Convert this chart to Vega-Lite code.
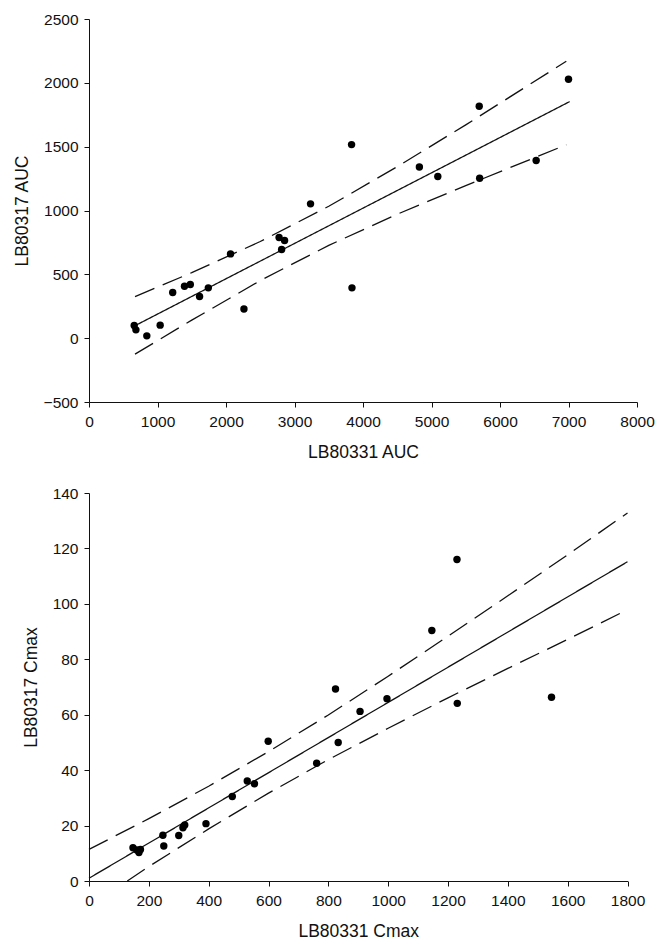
{
  "$schema": "https://vega.github.io/schema/vega-lite/v6.json",
  "padding": {"left": 13, "top": 12, "right": 5, "bottom": 5},
  "background": "white",
  "spacing": 25,
  "config": {
    "view": {"stroke": null},
    "font": "Liberation Sans",
    "axis": {
      "grid": false,
      "format": "d",
      "domainColor": "#111",
      "tickColor": "#111",
      "tickSize": 5,
      "labelFont": "Liberation Sans",
      "labelFontSize": 15.5,
      "labelColor": "#111",
      "titleFont": "Liberation Sans",
      "titleFontSize": 17.5,
      "titleFontWeight": "normal",
      "titleColor": "#111"
    },
    "axisX": {"labelPadding": 7, "titlePadding": 14, "labelFlush": false},
    "axisY": {"labelPadding": 6, "titlePadding": 12}
  },
  "vconcat": [
    {
      "width": 548,
      "height": 383,
      "layer": [
        {
          "data": {"values": [
            {"s": "fit", "x": 680, "y": 100},
            {"s": "fit", "x": 7017, "y": 1853},
            {"s": "upper", "x": 672, "y": 326},
            {"s": "upper", "x": 1500, "y": 513},
            {"s": "upper", "x": 2500, "y": 757},
            {"s": "upper", "x": 3500, "y": 1033},
            {"s": "upper", "x": 4500, "y": 1343},
            {"s": "upper", "x": 5500, "y": 1671},
            {"s": "upper", "x": 6968, "y": 2169},
            {"s": "lower", "x": 672, "y": -125},
            {"s": "lower", "x": 1500, "y": 141},
            {"s": "lower", "x": 2500, "y": 451},
            {"s": "lower", "x": 3500, "y": 727},
            {"s": "lower", "x": 4500, "y": 971},
            {"s": "lower", "x": 5500, "y": 1195},
            {"s": "lower", "x": 6968, "y": 1515}
          ]},
          "mark": {"type": "line", "color": "#111", "strokeWidth": 1.3},
          "encoding": {
            "x": {"field": "x", "type": "quantitative"},
            "y": {"field": "y", "type": "quantitative"},
            "detail": {"field": "s"},
            "strokeDash": {"field": "s", "type": "nominal", "scale": {"domain": ["fit", "upper", "lower"], "range": [[1, 0], [21, 9], [21, 9]]}, "legend": null}
          }
        },
        {
          "data": {"values": [
            {"x": 660, "y": 99}, {"x": 685, "y": 65}, {"x": 844, "y": 18}, {"x": 1039, "y": 102},
            {"x": 1222, "y": 358}, {"x": 1394, "y": 407}, {"x": 1479, "y": 420}, {"x": 1614, "y": 326},
            {"x": 1742, "y": 394}, {"x": 2066, "y": 660}, {"x": 2262, "y": 228}, {"x": 2775, "y": 788},
            {"x": 2812, "y": 694}, {"x": 2855, "y": 765}, {"x": 3234, "y": 1052}, {"x": 3833, "y": 1516},
            {"x": 3839, "y": 394}, {"x": 4823, "y": 1341}, {"x": 5092, "y": 1266}, {"x": 5697, "y": 1816},
            {"x": 5703, "y": 1253}, {"x": 6528, "y": 1391}, {"x": 7000, "y": 2028}
          ]},
          "mark": {"type": "circle", "color": "#000", "opacity": 1, "size": 55},
          "encoding": {
            "x": {"field": "x", "type": "quantitative", "title": "LB80331 AUC",
                  "scale": {"domain": [0, 8000], "nice": false, "zero": false},
                  "axis": {"values": [0, 1000, 2000, 3000, 4000, 5000, 6000, 7000, 8000]}},
            "y": {"field": "y", "type": "quantitative", "title": "LB80317 AUC",
                  "scale": {"domain": [-500, 2500], "nice": false, "zero": false},
                  "axis": {"values": [-500, 0, 500, 1000, 1500, 2000, 2500]}}
          }
        }
      ]
    },
    {
      "width": 538.5,
      "height": 388,
      "layer": [
        {
          "data": {"values": [
            {"s": "fit", "x": 0, "y": 1.0},
            {"s": "fit", "x": 1800, "y": 115.2},
            {"s": "upper", "x": 0, "y": 11.4},
            {"s": "upper", "x": 200, "y": 22.5},
            {"s": "upper", "x": 400, "y": 34.2},
            {"s": "upper", "x": 600, "y": 46.7},
            {"s": "upper", "x": 800, "y": 59.9},
            {"s": "upper", "x": 1000, "y": 73.9},
            {"s": "upper", "x": 1200, "y": 88.3},
            {"s": "upper", "x": 1400, "y": 102.9},
            {"s": "upper", "x": 1600, "y": 117.7},
            {"s": "upper", "x": 1800, "y": 132.8},
            {"s": "lower", "x": 128, "y": 0},
            {"s": "lower", "x": 200, "y": 5.2},
            {"s": "lower", "x": 400, "y": 18.8},
            {"s": "lower", "x": 600, "y": 31.7},
            {"s": "lower", "x": 800, "y": 43.8},
            {"s": "lower", "x": 1000, "y": 55.1},
            {"s": "lower", "x": 1200, "y": 66.1},
            {"s": "lower", "x": 1400, "y": 76.7},
            {"s": "lower", "x": 1600, "y": 87.2},
            {"s": "lower", "x": 1800, "y": 97.9}
          ]},
          "mark": {"type": "line", "color": "#111", "strokeWidth": 1.3},
          "encoding": {
            "x": {"field": "x", "type": "quantitative"},
            "y": {"field": "y", "type": "quantitative"},
            "detail": {"field": "s"},
            "strokeDash": {"field": "s", "type": "nominal", "scale": {"domain": ["fit", "upper", "lower"], "range": [[1, 0], [21, 9], [21, 9]]}, "legend": null}
          }
        },
        {
          "data": {"values": [
            {"x": 147, "y": 12.0}, {"x": 160, "y": 11.2}, {"x": 167, "y": 10.3}, {"x": 172, "y": 11.4},
            {"x": 247, "y": 16.5}, {"x": 250, "y": 12.6}, {"x": 300, "y": 16.4}, {"x": 314, "y": 19.2},
            {"x": 320, "y": 20.2}, {"x": 391, "y": 20.7}, {"x": 479, "y": 30.5}, {"x": 529, "y": 36.1},
            {"x": 553, "y": 35.1}, {"x": 599, "y": 50.4}, {"x": 761, "y": 42.5}, {"x": 824, "y": 69.3},
            {"x": 833, "y": 50.0}, {"x": 906, "y": 61.2}, {"x": 996, "y": 65.8}, {"x": 1146, "y": 90.4},
            {"x": 1230, "y": 116.0}, {"x": 1231, "y": 64.1}, {"x": 1546, "y": 66.3}
          ]},
          "mark": {"type": "circle", "color": "#000", "opacity": 1, "size": 55},
          "encoding": {
            "x": {"field": "x", "type": "quantitative", "title": "LB80331 Cmax",
                  "scale": {"domain": [0, 1800], "nice": false, "zero": false},
                  "axis": {"values": [0, 200, 400, 600, 800, 1000, 1200, 1400, 1600, 1800]}},
            "y": {"field": "y", "type": "quantitative", "title": "LB80317 Cmax",
                  "scale": {"domain": [0, 140], "nice": false, "zero": false},
                  "axis": {"values": [0, 20, 40, 60, 80, 100, 120, 140]}}
          }
        }
      ]
    }
  ]
}
